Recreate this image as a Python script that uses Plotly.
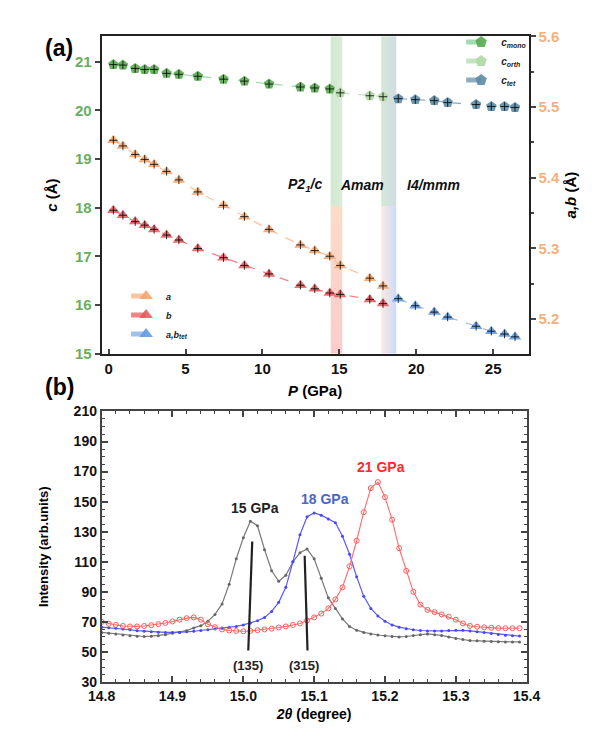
import plotly.graph_objects as go

# ---------------- Panel (a) data ----------------
P_mono = [0.31, 0.93, 1.73, 2.35, 2.96, 3.77, 4.57, 5.80, 7.47, 8.83, 10.43, 12.47, 13.40, 14.38]
P_orth = [15.06, 16.98, 17.84]
P_tet = [18.83, 19.94, 21.17, 22.04, 23.89, 24.88, 25.74, 26.42]
P_ab = P_mono + P_orth

c_mono = [20.94, 20.93, 20.86, 20.84, 20.84, 20.76, 20.74, 20.70, 20.64, 20.60, 20.54, 20.48, 20.46, 20.44]
c_orth = [20.36, 20.30, 20.28]
c_tet = [20.24, 20.22, 20.20, 20.16, 20.12, 20.08, 20.08, 20.06]

a_vals = [5.453, 5.445, 5.433, 5.426, 5.419, 5.409, 5.397, 5.380, 5.361, 5.345, 5.327,
          5.305, 5.297, 5.289, 5.276, 5.258, 5.247]
b_vals = [5.354, 5.347, 5.338, 5.333, 5.327, 5.319, 5.312, 5.300, 5.287, 5.276, 5.264,
          5.248, 5.243, 5.237, 5.235, 5.228, 5.222]
ab_tet = [5.229, 5.219, 5.210, 5.203, 5.190, 5.183, 5.179, 5.175]

# phase boundary bands (GPa) and split level on c axis
band1 = [14.44, 15.19]
band2 = [17.72, 18.70]
band_split_c = 18.03

phase_labels = ["P2<sub>1</sub>/c", "Amam", "I4/mmm"]
phase_label_P = [12.8, 16.5, 21.1]
phase_label_c = 18.47

# ---------------- Panel (b) data ----------------
two_theta = [round(14.80 + 0.01 * i, 2) for i in range(60)]
I_15 = [63, 62.5, 62, 61.3, 60.8, 60.5, 60.3, 60.5, 60.8, 61.5,
        62.5, 63.2, 64.2, 66, 67.5, 70.5, 75, 82, 95, 112,
        126, 137, 134, 118, 104, 97, 101, 110, 116, 118.5,
        112, 99, 86, 79, 72, 67, 64.5, 63, 62, 61.3,
        60.8, 60.3, 60, 60.3, 61, 61.5, 62, 61.5, 61, 60,
        59, 58.3, 57.6, 57.4, 57.2, 57, 56.8, 56.7, 56.7, 56.7]
I_18 = [66.5, 66.2, 65.8, 65.3, 64.8, 64.2, 63.8, 63.4, 63.1, 63,
        63, 63, 63.4, 63.8, 64.3, 64.8, 65.3, 65.8, 66.3, 67,
        68, 69.2, 70.8, 73, 77, 83, 93, 110, 128, 140,
        142.5, 141, 138.5, 136, 127, 115, 100, 87, 79, 74,
        70.5, 68, 66.5, 65.5, 64.8, 64.3, 64, 64, 64, 64.3,
        64.5, 64.4, 64, 63.5, 63, 62.3, 61.7, 61.2, 60.8, 60.6]
I_21 = [70, 68.8, 68, 67.3, 67, 67, 67.3, 67.8, 68.5, 69.3,
        70.3, 71.5, 72.5, 73, 71.5, 68.5, 66.5, 65, 64.3, 64,
        63.8, 64, 64.5, 65, 65.5, 66.3, 67, 68, 69, 71,
        73, 75.5, 79, 85, 93, 107, 124, 143, 159, 163,
        153, 138, 119, 104, 90, 81.5, 78, 76.5, 75, 73.5,
        71.5, 69, 67.3, 66.8, 66.4, 66.1, 65.9, 65.8, 65.8, 65.8]

curve_labels = ["15 GPa", "18 GPa", "21 GPa"]
curve_label_pos = [(15.017, 145.5), (15.115, 151.5), (15.194, 173)]
hkl_labels = ["(135)", "(315)"]
hkl_line_top = [(15.0126, 123.5), (15.0866, 114)]
hkl_line_bot = [(15.007, 51), (15.0906, 51)]
hkl_label_pos = [(15.006, 41), (15.086, 41)]

FONT = "Liberation Sans"

fig = go.Figure()

# ---- bands (panel a) ----
def band(x0, x1, y0, y1, gtype, cs, start=None, stop=None):
    fg = dict(type=gtype, colorscale=cs)
    if start is not None:
        fg["start"] = start
        fg["stop"] = stop
    fig.add_trace(go.Scatter(
        x=[x0, x1, x1, x0, x0], y=[y0, y0, y1, y1, y0], mode="none",
        fill="toself", fillgradient=fg, showlegend=False, hoverinfo="skip",
        xaxis="x", yaxis="y"))

band(band1[0], band1[1], band_split_c, 21.52, "horizontal",
     [[0, "rgba(170,212,165,0.55)"], [1, "rgba(190,222,185,0.55)"]])
band(band1[0], band1[1], 15, band_split_c, "vertical",
     [[0, "rgba(246,170,170,0.6)"], [1, "rgba(250,195,160,0.6)"]], 15, band_split_c)
band(band2[0], band2[1], band_split_c, 21.52, "horizontal",
     [[0, "rgba(180,215,180,0.55)"], [1, "rgba(175,195,210,0.6)"]])
band(band2[0], band2[1], 15, band_split_c, "horizontal",
     [[0, "rgba(250,215,205,0.55)"], [1, "rgba(165,195,245,0.6)"]])


def series(x, y, name, mcol, lcol, symbol, yax, leg):
    fig.add_trace(go.Scatter(
        x=x, y=y, name=name, mode="lines+markers", xaxis="x", yaxis=yax,
        legend=leg,
        line=dict(color=lcol, width=1.3, dash="dash"),
        marker=dict(symbol=symbol, size=11, color=mcol, line=dict(width=0))))
    # black crosshair (error marks) drawn on top of each point
    fig.add_trace(go.Scatter(
        x=x, y=y, mode="markers", xaxis="x", yaxis=yax, showlegend=False, hoverinfo="skip",
        marker=dict(symbol="cross-thin", size=6, color="black",
                    line=dict(width=1, color="rgba(0,0,0,0.8)"))))

series(P_mono, c_mono, "<b><i>c</i></b><sub><b><i>mono</i></b></sub>", "rgba(88,170,80,0.9)",
       "rgba(150,215,170,0.9)", "pentagon", "y", "legend")
series(P_orth, c_orth, "<b><i>c</i></b><sub><b><i>orth</i></b></sub>", "rgba(178,218,168,0.95)",
       "rgba(190,225,185,0.9)", "pentagon", "y", "legend")
series(P_tet, c_tet, "<b><i>c</i></b><sub><b><i>tet</i></b></sub>", "rgba(92,140,165,0.9)",
       "rgba(130,165,185,0.9)", "pentagon", "y", "legend")

series(P_ab, a_vals, "<b><i>a</i></b>", "rgba(245,165,110,0.9)",
       "rgba(248,190,150,0.9)", "triangle-up", "y2", "legend2")
series(P_ab, b_vals, "<b><i>b</i></b>", "rgba(232,85,90,0.85)",
       "rgba(238,120,120,0.9)", "triangle-up", "y2", "legend2")
series(P_tet, ab_tet, "<b><i>a,b</i></b><sub><b><i>tet</i></b></sub>", "rgba(100,155,225,0.9)",
       "rgba(150,185,235,0.9)", "triangle-up", "y2", "legend2")

# ---- panel (b) curves ----
fig.add_trace(go.Scatter(x=two_theta, y=I_15, mode="lines+markers", xaxis="x2", yaxis="y3",
                         line=dict(color="#7a7a7a", width=1.2),
                         marker=dict(symbol="circle", size=3, color="#666666"), showlegend=False))
fig.add_trace(go.Scatter(x=two_theta, y=I_18, mode="lines+markers", xaxis="x2", yaxis="y3",
                         line=dict(color="#5a5aff", width=1.2),
                         marker=dict(symbol="circle", size=3, color="#4848f0"), showlegend=False))
fig.add_trace(go.Scatter(x=two_theta, y=I_21, mode="lines+markers", xaxis="x2", yaxis="y3",
                         line=dict(color="#ff6a6a", width=1.1),
                         marker=dict(symbol="circle-open", size=5, color="#ff5a5a", line=dict(width=1)),
                         showlegend=False))

annotations = []
shapes = []
for lab, px in zip(phase_labels, phase_label_P):
    annotations.append(dict(x=px, y=phase_label_c, xref="x", yref="y", text="<b><i>%s</i></b>" % lab,
                            showarrow=False, font=dict(family=FONT, size=14, color="#111")))
colors_b = ["#222222", "#4a66c8", "#ff2a2a"]
for lab, (tx, ty), col in zip(curve_labels, curve_label_pos, colors_b):
    annotations.append(dict(x=tx, y=ty, xref="x2", yref="y3", text="<b>%s</b>" % lab,
                            showarrow=False, font=dict(family=FONT, size=14, color=col)))
for lab, (tx, ty) in zip(hkl_labels, hkl_label_pos):
    annotations.append(dict(x=tx, y=ty, xref="x2", yref="y3", text="<b>%s</b>" % lab,
                            showarrow=False, font=dict(family=FONT, size=13, color="#222")))
for (x0, y0), (x1, y1) in zip(hkl_line_top, hkl_line_bot):
    shapes.append(dict(type="line", xref="x2", yref="y3", x0=x0, y0=y0, x1=x1, y1=y1,
                       line=dict(color="#222", width=2.2)))

annotations.append(dict(x=30 / 594, y=1 - 25 / 734, xref="paper", yref="paper", text="<b>(a)</b>",
                        showarrow=False, font=dict(family=FONT, size=23, color="black")))
annotations.append(dict(x=30 / 594, y=1 - 387 / 734, xref="paper", yref="paper", text="<b>(b)</b>",
                        showarrow=False, font=dict(family=FONT, size=23, color="black")))

dom_a_x = [92 / 594, 540 / 594]
dom_a_y = [1 - 353 / 734, 1 - 28 / 734]
dom_b_x = [92 / 594, 538 / 594]
dom_b_y = [1 - 689 / 734, 1 - 412 / 734]

fig.update_layout(
    width=594, height=734, margin=dict(l=0, r=0, t=0, b=0),
    paper_bgcolor="white", plot_bgcolor="white",
    font=dict(family=FONT, color="black"),
    annotations=annotations, shapes=shapes,
    xaxis=dict(domain=dom_a_x, anchor="y", range=[-0.45, 27.3], tickvals=[0, 5, 10, 15, 20, 25],
               ticks="inside", ticklen=5, tickwidth=2, showline=True, linewidth=2, linecolor="#222",
               mirror=True, showgrid=False, zeroline=False,
               tickfont=dict(family=FONT, size=15, color="#111", weight="bold"),
               title=dict(text="<b><i>P</i> (GPa)</b>", font=dict(family=FONT, size=15), standoff=10)),
    yaxis=dict(domain=dom_a_y, anchor="x", range=[15, 21.52], tickvals=[15, 16, 17, 18, 19, 20, 21],
               ticks="outside", ticklen=5, tickwidth=2, showline=True, linewidth=2, linecolor="#222",
               showgrid=False, zeroline=False,
               tickfont=dict(family=FONT, size=15, color="#6aae5c", weight="bold"),
               title=dict(text="<b><i>c</i> (Å)</b>", font=dict(family=FONT, size=15), standoff=14)),
    yaxis2=dict(overlaying="y", side="right", anchor="x", range=[5.151, 5.6],
                tickvals=[5.2, 5.3, 5.4, 5.5, 5.6], ticktext=["5.2", "5.3", "5.4", "5.5", "5.6"],
                ticks="outside", ticklen=5, tickwidth=2, showline=True, linewidth=2, linecolor="#222",
                minor=dict(tickvals=[5.25, 5.35, 5.45, 5.55], ticks="outside", ticklen=3, tickwidth=1.5),
                showgrid=False, zeroline=False,
                tickfont=dict(family=FONT, size=15, color="#f6b07c", weight="bold"),
                title=dict(text="<b><i>a,b</i> (Å)</b>", font=dict(family=FONT, size=15), standoff=6)),
    xaxis2=dict(domain=dom_b_x, anchor="y3", range=[14.8, 15.4], dtick=0.1, tick0=14.8,
                tickformat=".1f", ticks="inside", ticklen=6, tickwidth=1.5,
                minor=dict(dtick=0.02, ticks="inside", ticklen=3, tickwidth=1),
                showline=True, linewidth=1.8, linecolor="#444", mirror="allticks",
                showgrid=False, zeroline=False,
                tickfont=dict(family=FONT, size=14, color="#111", weight="bold"),
                title=dict(text="<b><i>2θ</i> (degree)</b>", font=dict(family=FONT, size=14), standoff=6)),
    yaxis3=dict(domain=dom_b_y, anchor="x2", range=[30, 210], dtick=20, tick0=30,
                ticks="inside", ticklen=6, tickwidth=1.5,
                minor=dict(dtick=5, ticks="inside", ticklen=3, tickwidth=1),
                showline=True, linewidth=1.8, linecolor="#444", mirror="allticks",
                showgrid=False, zeroline=False,
                tickfont=dict(family=FONT, size=14, color="#111", weight="bold"),
                title=dict(text="<b>Intensity (arb.units)</b>", font=dict(family=FONT, size=13), standoff=22)),
    legend=dict(x=0.79, y=1 - 19 / 734, xanchor="left", yanchor="top", bgcolor="rgba(0,0,0,0)",
                font=dict(family=FONT, size=10, color="#222"), itemsizing="constant", itemwidth=30,
                tracegroupgap=0),
    legend2=dict(x=0.198, y=1 - 279 / 734, xanchor="left", yanchor="top", bgcolor="rgba(0,0,0,0)",
                 font=dict(family=FONT, size=9, color="#222"), itemsizing="constant", itemwidth=30,
                 tracegroupgap=0),
)

fig.write_html("out.html")
